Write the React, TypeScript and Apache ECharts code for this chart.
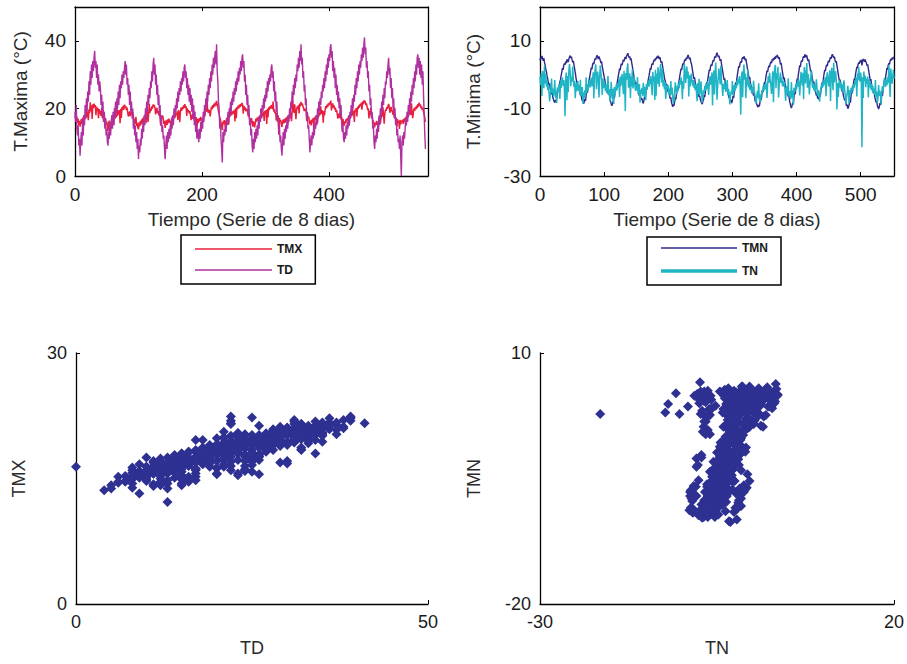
import React, { useEffect, useRef } from "react";
import * as echarts from "echarts";

// time index of the 8-day series (one stored sample per index)
const STEP = 1;

const TD = [
  19, 16, 21, 14, 12, 15, 9, 11, 6, 10,
  13, 9, 17, 12, 18, 15, 21, 17, 23, 19,
  25, 22, 28, 24, 31, 27, 33, 29, 34, 31,
  35, 37, 32, 34, 29, 33, 27, 30, 25, 28,
  26, 21, 24, 18, 22, 16, 19, 14, 17, 12,
  14, 10, 9, 13, 11, 16, 12, 15, 18, 14,
  19, 15, 20, 17, 22, 18, 23, 20, 25, 21,
  27, 23, 28, 26, 30, 27, 31, 29, 32, 34,
  30, 33, 27, 29, 24, 27, 21, 25, 19, 22,
  17, 20, 14, 17, 12, 15, 10, 13, 8, 11,
  5, 9, 7, 11, 9, 14, 11, 16, 13, 18,
  15, 20, 17, 22, 19, 24, 21, 26, 23, 28,
  26, 31, 28, 33, 35, 30, 33, 27, 30, 24,
  27, 21, 24, 18, 21, 15, 18, 13, 15, 11,
  12, 8, 5, 9, 12, 8, 13, 10, 14, 11,
  15, 12, 17, 14, 18, 15, 20, 17, 21, 19,
  23, 20, 25, 22, 26, 24, 28, 25, 29, 27,
  31, 28, 32, 33, 29, 31, 26, 29, 24, 27,
  22, 26, 21, 24, 19, 23, 17, 21, 15, 19,
  13, 16, 11, 14, 12, 10, 14, 11, 16, 13,
  17, 14, 19, 16, 21, 18, 23, 20, 25, 22,
  27, 24, 29, 26, 31, 28, 33, 30, 35, 32,
  35, 37, 33, 39, 31, 28, 22, 20, 14, 16,
  11, 8, 4, 13, 10, 14, 12, 15, 13, 17,
  15, 19, 16, 20, 18, 22, 19, 23, 21, 25,
  22, 26, 24, 28, 25, 29, 27, 31, 28, 32,
  30, 34, 31, 35, 36, 32, 34, 28, 30, 24,
  27, 21, 24, 18, 21, 15, 17, 12, 14, 9,
  7, 11, 8, 13, 10, 14, 11, 15, 12, 17,
  14, 18, 16, 20, 17, 21, 19, 23, 20, 24,
  22, 26, 23, 28, 25, 29, 27, 30, 28, 32,
  33, 29, 31, 25, 28, 22, 25, 19, 22, 16,
  18, 13, 15, 10, 12, 8, 6, 10, 13, 9,
  14, 11, 15, 13, 17, 14, 18, 16, 20, 17,
  22, 20, 25, 22, 27, 24, 29, 26, 30, 28,
  33, 31, 35, 32, 37, 34, 39, 33, 35, 29,
  31, 25, 27, 21, 23, 17, 19, 14, 15, 11,
  7, 10, 12, 9, 13, 11, 15, 12, 16, 14,
  18, 15, 20, 17, 22, 19, 23, 21, 25, 23,
  27, 25, 29, 26, 31, 28, 33, 30, 35, 32,
  36, 34, 38, 39, 35, 37, 31, 34, 29, 32,
  26, 30, 24, 27, 22, 25, 20, 23, 18, 21,
  16, 13, 15, 11, 10, 13, 11, 15, 12, 16,
  14, 18, 15, 19, 17, 21, 18, 23, 20, 24,
  22, 27, 24, 29, 26, 31, 28, 33, 30, 34,
  32, 36, 34, 38, 35, 39, 41, 36, 38, 32,
  34, 29, 31, 25, 27, 21, 23, 17, 19, 14,
  15, 10, 8, 12, 10, 14, 11, 16, 13, 18,
  15, 20, 17, 22, 19, 24, 21, 26, 23, 28,
  27, 31, 29, 33, 35, 30, 32, 26, 29, 23,
  26, 20, 23, 17, 20, 15, 17, 12, 14, 10,
  11, 8, 12, 6, 0, 10, 12, 9, 13, 11,
  14, 17, 15, 19, 16, 21, 18, 23, 20, 25,
  22, 27, 24, 29, 26, 31, 28, 33, 30, 35,
  36, 32, 35, 30, 34, 29, 33, 27, 31, 24,
  18, 12, 8,
];

const TMX = [
  17.2, 18.1, 16.4, 17.5, 15.8, 16.9, 15.1, 16.3, 14.6, 15.9,
  16.8, 15.4, 17.3, 14.3, 17.9, 16.6, 18.2, 17.1, 20.1, 17.4,
  19.1, 16.5, 19.7, 18.6, 21.8, 19.2, 20.9, 16.9, 21.2, 20.1,
  21.4, 20.3, 21.0, 18.0, 20.5, 19.2, 20.1, 17.1, 19.8, 18.4,
  19.3, 17.8, 20.2, 17.2, 18.1, 16.5, 19.0, 16.0, 17.1, 15.3,
  16.1, 14.7, 13.2, 15.6, 16.4, 15.1, 14.2, 15.8, 17.3, 16.2,
  17.8, 15.0, 18.1, 17.0, 21.6, 17.3, 20.4, 17.8, 19.4, 18.2,
  19.5, 15.6, 19.9, 17.2, 20.4, 19.4, 20.8, 19.6, 21.1, 20.4,
  20.7, 19.5, 20.2, 18.9, 17.6, 18.3, 19.1, 17.7, 18.5, 19.4,
  18.2, 18.9, 17.4, 16.1, 16.8, 15.4, 17.5, 14.8, 15.7, 14.3,
  13.8, 15.9, 14.7, 16.3, 15.2, 16.8, 15.6, 17.2, 16.0, 17.6,
  16.9, 18.3, 15.6, 21.9, 17.8, 16.0, 18.3, 21.3, 18.6, 20.0,
  19.3, 20.6, 19.9, 21.2, 20.5, 21.0, 20.1, 18.2, 19.4, 20.2,
  18.6, 19.3, 17.9, 18.7, 17.3, 14.9, 16.8, 17.5, 17.9, 16.9,
  15.4, 16.3, 14.2, 15.7, 16.5, 15.1, 16.8, 15.6, 17.0, 15.9,
  16.4, 14.6, 16.0, 17.6, 16.7, 18.0, 17.1, 19.6, 17.4, 18.7,
  18.0, 19.1, 16.6, 19.5, 18.7, 15.9, 19.0, 20.2, 19.3, 20.4,
  19.8, 20.9, 20.2, 21.3, 20.1, 20.6, 17.8, 20.0, 18.9, 19.5,
  18.5, 19.2, 17.9, 16.5, 17.5, 18.3, 16.9, 19.3, 16.4, 17.2,
  16.6, 17.4, 14.1, 16.9, 15.7, 16.4, 17.1, 16.2, 17.5, 16.6,
  17.0, 15.7, 16.8, 18.2, 17.4, 18.6, 20.0, 19.0, 22.3, 19.3,
  18.7, 19.6, 19.0, 17.6, 19.4, 20.5, 19.8, 21.0, 20.2, 21.4,
  20.5, 21.7, 20.9, 22.2, 21.0, 20.3, 19.1, 18.4, 17.3, 16.8,
  15.6, 14.9, 13.6, 16.1, 15.4, 16.5, 15.8, 14.2, 16.1, 17.2,
  16.8, 17.9, 15.2, 18.3, 17.5, 20.1, 17.9, 19.0, 18.2, 19.3,
  18.5, 19.6, 16.1, 20.0, 17.1, 20.4, 19.7, 20.8, 20.0, 21.1,
  20.4, 21.3, 20.7, 21.6, 21.0, 18.4, 20.8, 19.6, 20.3, 19.2,
  19.5, 19.9, 18.9, 17.6, 18.3, 17.0, 15.2, 16.3, 17.1, 15.8,
  14.6, 16.2, 15.3, 14.4, 15.7, 17.0, 16.1, 17.3, 16.4, 17.6,
  16.7, 17.8, 17.1, 19.8, 17.4, 18.6, 17.8, 19.0, 16.3, 19.3,
  18.4, 19.5, 15.4, 19.9, 17.3, 20.3, 19.5, 20.6, 19.9, 21.0,
  20.6, 19.8, 22.0, 19.1, 19.7, 18.5, 19.1, 16.4, 18.6, 17.3,
  17.8, 12.2, 17.2, 15.9, 16.6, 15.3, 14.5, 16.0, 16.7, 15.6,
  16.9, 15.8, 17.2, 16.4, 17.6, 15.1, 18.0, 17.2, 18.3, 17.5,
  18.8, 16.2, 19.1, 22.4, 19.5, 18.7, 21.2, 19.1, 16.8, 19.5,
  20.6, 19.8, 21.0, 18.5, 21.4, 20.7, 21.9, 20.9, 21.5, 20.6,
  20.1, 19.2, 19.7, 19.9, 19.0, 16.2, 18.3, 17.2, 17.6, 16.5,
  15.3, 16.4, 15.0, 16.7, 15.9, 17.1, 14.4, 17.4, 16.6, 17.8,
  16.9, 18.0, 15.6, 18.4, 17.6, 18.8, 18.0, 20.6, 18.4, 19.5,
  18.8, 15.8, 19.2, 17.9, 19.6, 20.7, 20.0, 21.1, 20.4, 21.5,
  20.9, 21.8, 21.2, 22.3, 19.4, 20.8, 21.5, 20.2, 20.9, 19.7,
  20.2, 19.0, 19.6, 18.4, 17.0, 17.8, 18.5, 17.2, 19.6, 16.7,
  17.4, 13.8, 16.9, 15.7, 14.9, 16.2, 15.6, 16.8, 16.0, 17.1,
  16.6, 17.7, 14.9, 18.1, 17.3, 18.5, 17.7, 20.4, 18.0, 19.2,
  16.0, 19.7, 19.0, 20.1, 17.6, 20.5, 19.8, 20.9, 20.2, 21.3,
  20.8, 21.7, 19.6, 22.0, 21.3, 22.4, 21.6, 22.2, 21.0, 21.5,
  20.6, 19.5, 20.0, 17.0, 19.3, 18.1, 20.2, 17.4, 17.9, 16.6,
  16.1, 15.2, 14.4, 15.8, 15.1, 16.3, 15.6, 14.6, 16.0, 17.2,
  16.8, 15.5, 17.3, 18.4, 17.6, 20.3, 18.1, 15.5, 18.5, 19.6,
  19.3, 20.4, 19.8, 20.8, 21.3, 20.5, 18.7, 19.9, 20.4, 19.3,
  19.0, 18.1, 20.4, 17.4, 18.0, 16.9, 17.3, 14.5, 16.8, 15.7,
  16.3, 13.9, 16.6, 15.2, 16.4, 15.8, 16.7, 15.4, 16.9, 16.1,
  17.3, 14.8, 17.8, 17.0, 18.2, 17.4, 18.5, 19.9, 18.9, 18.1,
  21.5, 18.4, 17.1, 18.9, 20.0, 19.3, 20.4, 19.7, 20.8, 20.1,
  21.3, 20.5, 21.7, 20.8, 21.2, 20.0, 20.6, 19.5, 20.1, 19.0,
  18.2, 17.1, 16.0,
];

const TMN = [
  4.2, 5.1, 4.6, 5.5, 4.8, 4.1, 4.9, 3.6, 2.8, 1.5,
  0.9, -0.4, -1.2, -2.5, -3.1, -2.6, -4.2, -4.9, -5.8, -5.3,
  -6.7, -7.4, -7.9, -8.3, -7.6, -8.1, -6.9, -5.8, -4.6, -5.1,
  -3.4, -2.2, -1.5, -0.3, 0.8, 1.9, 1.4, 2.7, 3.3, 2.9,
  3.8, 3.4, 4.5, 4.1, 3.7, 4.6, 5.2, 5.6, 4.9, 5.3,
  4.4, 3.6, 4.1, 2.9, 1.7, 0.6, -0.8, -1.9, -2.6, -3.4,
  -4.3, -3.8, -5.2, -6.1, -5.7, -7.0, -7.8, -7.4, -8.6, -8.1,
  -7.2, -7.8, -6.1, -4.9, -5.4, -3.7, -2.4, -1.1, -0.2, 1.0,
  2.1, 1.6, 3.0, 3.5, 3.1, 4.2, 4.8, 4.4, 5.3, 5.7,
  5.1, 4.6, 5.4, 4.8, 4.2, 3.4, 3.9, 2.6, 1.5, 0.4,
  -0.6, -1.4, -2.8, -3.5, -3.0, -4.6, -5.3, -6.0, -5.6, -7.1,
  -7.9, -8.6, -9.2, -8.7, -8.1, -6.4, -7.0, -5.5, -4.1, -4.6,
  -2.9, -1.6, -0.5, 0.6, 1.8, 1.3, 2.6, 3.2, 2.8, 3.7,
  4.4, 3.9, 4.8, 5.2, 4.6, 5.5, 5.9, 6.3, 5.6, 5.0,
  5.4, 4.3, 4.8, 3.5, 2.4, 1.2, 0.1, -1.3, -2.1, -2.9,
  -2.4, -3.8, -4.5, -4.0, -5.6, -6.3, -5.9, -6.8, -7.4, -7.0,
  -8.1, -8.5, -7.7, -6.6, -7.1, -5.2, -3.9, -4.4, -2.6, -1.3,
  -0.4, 0.8, 1.9, 1.5, 2.8, 3.3, 2.9, 3.9, 4.4, 4.0,
  4.9, 4.5, 5.3, 4.8, 5.6, 5.1, 4.6, 5.2, 4.2, 3.5,
  3.9, 2.6, 1.5, 0.4, -0.9, -1.7, -2.5, -3.3, -2.8, -4.4,
  -5.2, -4.8, -6.3, -7.1, -6.7, -8.2, -8.9, -9.5, -8.8, -9.2,
  -8.0, -6.8, -7.3, -5.5, -4.2, -4.7, -2.9, -1.6, -0.4, 0.7,
  1.8, 1.4, 2.7, 3.3, 2.9, 4.0, 4.5, 4.1, 5.0, 4.6,
  5.4, 5.8, 5.1, 4.5, 5.0, 3.9, 3.3, 2.2, 1.0, -0.2,
  -1.3, -0.8, -2.4, -3.2, -4.1, -3.6, -5.3, -5.9, -6.6, -6.2,
  -7.3, -7.9, -8.4, -8.7, -8.0, -7.4, -6.1, -6.6, -4.8, -3.5,
  -2.2, -2.7, -0.9, 0.3, 1.5, 1.1, 2.4, 3.0, 2.6, 3.6,
  4.3, 3.9, 4.9, 5.4, 5.0, 6.0, 6.5, 5.8, 5.2, 5.6,
  4.8, 4.1, 4.6, 3.2, 2.0, 0.8, -0.4, -1.6, -1.1, -2.7,
  -3.6, -4.4, -4.0, -5.5, -6.3, -7.0, -6.6, -8.0, -7.5, -8.4,
  -7.6, -6.4, -6.9, -5.0, -3.7, -2.4, -2.9, -1.1, 0.2, 1.4,
  2.5, 2.1, 3.4, 3.9, 3.5, 4.6, 5.1, 4.7, 5.4, 4.9,
  4.2, 4.7, 3.5, 2.3, 1.2, 0.0, -1.2, -0.7, -2.4, -3.3,
  -4.2, -3.8, -5.4, -6.2, -5.8, -7.3, -8.1, -7.7, -8.8, -9.3,
  -9.6, -9.0, -9.4, -8.2, -7.0, -7.5, -5.8, -4.6, -5.1, -3.4,
  -2.2, -2.7, -1.0, 0.1, 1.2, 0.8, 2.0, 2.6, 2.2, 3.3,
  3.8, 3.4, 4.5, 4.0, 4.9, 4.4, 5.2, 4.7, 5.5, 5.1,
  5.8, 5.3, 4.7, 5.2, 4.1, 3.0, 3.5, 2.1, 0.9, -0.3,
  -1.4, -0.9, -2.6, -3.4, -4.3, -3.9, -5.5, -6.4, -6.0, -7.6,
  -8.5, -9.4, -9.9, -9.2, -8.3, -8.8, -6.7, -5.3, -5.8, -3.9,
  -2.5, -1.2, -1.7, 0.2, 1.5, 2.7, 2.3, 3.6, 4.2, 3.8,
  4.9, 5.4, 5.0, 6.0, 5.5, 5.1, 5.7, 4.6, 4.0, 4.5,
  3.3, 2.1, 0.9, 1.3, -0.3, -1.5, -2.6, -2.1, -3.8, -4.6,
  -5.3, -6.2, -5.8, -7.1, -6.6, -7.4, -6.0, -6.5, -4.9, -3.6,
  -2.3, -2.8, -1.0, 0.3, 1.4, 1.0, 2.3, 2.9, 2.5, 3.6,
  4.1, 3.7, 4.6, 5.1, 4.7, 5.6, 6.0, 5.4, 4.9, 5.3,
  4.4, 3.6, 4.0, 2.7, 1.5, 0.3, -0.9, -2.0, -1.5, -3.2,
  -4.1, -5.0, -4.6, -6.1, -6.9, -7.6, -7.2, -8.5, -9.3, -8.9,
  -10.1, -9.6, -9.0, -7.8, -8.3, -6.4, -5.0, -5.5, -3.7, -2.4,
  -1.2, -1.7, 0.1, 1.2, 2.3, 1.9, 3.0, 3.6, 3.2, 4.1,
  3.7, 4.4, 2.7, 4.0, 4.6, 4.2, 3.8, 4.5, 3.9, 3.4,
  2.6, 3.0, 1.8, 0.6, -0.6, -1.8, -1.3, -3.0, -3.9, -4.7,
  -5.5, -5.0, -6.6, -7.4, -8.2, -7.8, -9.1, -9.7, -10.2, -9.6,
  -8.4, -9.0, -7.1, -5.8, -6.3, -4.4, -3.1, -1.8, -2.3, -0.6,
  0.7, 1.9, 1.5, 2.8, 3.4, 3.0, 4.1, 4.6, 4.2, 5.0,
  4.5, 5.2, 4.8,
];

const TN = [
  -0.8, -3.1, 0.4, -6.3, 1.1, -1.5, -4.0, 2.6, -2.6, 0.2,
  -3.5, -1.8, -4.6, -2.9, -5.1, -7.9, -6.0, -4.2, -1.2, -5.5,
  -4.1, -6.3, -5.0, -1.6, -6.8, -4.7, -8.4, -3.8, -5.2, -4.4,
  -2.9, -7.2, -1.7, -3.9, -2.4, -0.9, -3.3, -1.6, -4.1, -12.3,
  -1.2, 0.6, -7.6, -0.4, -5.2, 1.3, 3.1, 0.8, -3.4, -0.7,
  -2.1, 2.4, -1.4, -3.7, -1.9, -7.0, -2.6, -5.0, -3.2, -1.9,
  -4.8, -3.1, -5.6, -1.5, -6.4, -4.9, -3.7, -8.6, -5.2, -7.0,
  -4.6, -6.2, -0.8, -5.4, -2.8, -4.5, -3.0, -1.6, -3.8, -2.2,
  -0.9, -3.5, -1.4, 0.7, -7.1, -0.3, 1.5, 3.0, -4.3, -0.5,
  0.9, -2.1, -6.8, -0.6, 2.7, 0.4, -1.7, -6.0, -1.1, -2.8,
  -4.0, -2.3, -4.9, -3.1, -5.5, -3.8, -0.4, -6.0, -4.3, -7.9,
  -6.5, -2.1, -5.8, -7.3, -4.2, -8.7, -3.7, -6.0, -4.4, -2.9,
  -4.6, -2.5, -3.8, -1.3, -6.6, -0.6, -3.4, -1.5, 0.2, -2.7,
  -5.8, 1.1, -2.4, -10.8, 0.5, -1.6, 2.1, 3.3, -3.9, -1.2,
  0.4, -6.9, -0.6, -3.5, 1.6, -4.1, -2.3, -0.9, -3.3, -4.8,
  -2.9, -4.6, -0.7, -5.7, -4.1, -2.8, -8.3, -4.5, -5.6, -3.9,
  -6.4, -2.4, -4.3, -6.7, -3.6, -7.6, -2.7, -4.4, -3.1, -1.8,
  -3.6, -1.2, -2.8, -0.4, -3.9, -6.1, 0.8, -2.2, -0.6, -7.5,
  1.4, -6.4, 0.3, -2.8, 2.2, -0.9, -3.6, 0.6, 3.2, -0.2,
  -2.4, 1.9, -3.5, -1.6, -4.3, -2.2, -7.2, -5.1, -2.9, -4.4,
  -3.2, -5.7, -4.1, -6.3, -1.9, -5.9, -3.8, -6.8, -8.6, -7.4,
  -5.0, -2.3, -4.4, -5.8, -3.5, -4.9, -2.6, -4.1, -1.7, -3.0,
  -0.8, -2.6, -7.3, -1.9, -4.2, 3.1, 1.7, -2.5, -0.7, 2.4,
  -1.1, 0.9, -6.5, -0.2, -3.6, -1.4, 0.3, -2.1, -3.3, -1.6,
  -3.9, -2.4, -4.6, -2.9, -5.3, -7.9, -2.5, -5.8, -1.2, -6.1,
  -4.4, -2.0, -5.2, -8.3, -6.5, -4.6, -5.5, -3.3, -4.8, -2.7,
  -4.2, -2.0, -3.5, -6.0, -2.7, -0.5, -3.0, -1.3, 0.6, -9.1,
  -1.0, 1.2, -5.9, 0.1, 3.6, -1.5, -7.4, -3.4, -0.6, 1.8,
  -0.8, -2.9, 2.7, -1.7, -3.5, -6.3, -2.8, -4.4, -2.0, -3.6,
  -5.1, -3.4, -1.6, -6.0, -4.2, -5.6, -8.8, -6.4, -4.9, -5.8,
  -1.9, -6.2, -4.8, -3.2, -5.0, -2.9, -4.1, -1.8, -3.3, -1.2,
  -2.6, -0.4, -3.0, -11.9, -1.3, 0.9, -6.7, -0.1, 3.0, -1.5,
  0.3, -7.0, -0.8, -3.1, 1.5, -3.8, -2.2, -4.5, -2.7, -4.0,
  -5.6, -3.9, -5.0, -1.8, -4.6, -5.9, -7.2, -8.5, -6.5, -4.8,
  -6.9, -2.6, -7.6, -5.9, -8.1, -6.1, -4.6, -5.5, -3.4, -4.7,
  -2.9, -4.4, -2.1, -3.6, -6.9, -2.8, -0.4, -2.4, 0.5, -1.7,
  -3.1, -5.7, -1.9, 1.0, -8.2, -0.9, 1.9, 2.9, -4.0, 0.4,
  -1.4, 2.3, -6.8, -2.9, -1.1, 0.6, -2.5, -0.8, -3.4, -1.8,
  -3.6, -2.1, -4.5, -7.7, -5.0, -3.6, -5.8, -1.1, -6.4, -4.9,
  -6.1, -7.3, -2.2, -6.8, -4.7, -8.9, -3.9, -5.2, -4.0, -2.8,
  -4.3, -2.2, -3.6, -1.3, -2.8, -6.2, -2.5, 0.8, -1.4, -3.3,
  0.5, -7.3, 2.2, -0.4, -2.6, 1.1, 3.4, -3.9, 0.2, -1.6,
  -5.9, -2.8, -1.1, 1.2, -1.9, -3.9, -2.4, -4.6, -3.0, -5.1,
  -3.8, -1.4, -4.2, -6.3, -4.6, -5.8, -8.0, -5.2, -4.1, -2.9,
  -4.0, -2.3, -3.5, -1.5, -2.9, -0.7, -6.4, -0.9, 0.7, -1.8,
  -3.5, -0.6, 1.3, -7.8, -0.2, 2.0, -1.4, -4.6, 3.5, -2.3,
  -0.4, 1.0, -1.7, -10.3, -2.5, -6.6, -3.2, -1.6, -3.9, -2.3,
  -4.4, -2.9, -5.1, -3.6, -1.7, -4.3, -6.2, -8.7, -6.9, -5.5,
  -3.3, -5.3, -8.5, -4.6, -6.0, -3.9, -5.4, -3.5, -4.6, -2.7,
  -3.9, -1.8, -3.0, -0.9, -6.5, 0.3, -1.7, 2.2, -0.4, -2.1,
  0.6, -1.6, -21.5, -0.8, -6.9, 0.9, -1.9, -0.3, -3.7, -1.2,
  -2.6, -0.6, -6.8, -1.4, -3.8, -2.1, -4.4, -2.7, -4.9, -3.4,
  -5.6, -4.1, -6.0, -1.6, -6.7, -5.0, -8.4, -7.1, -3.1, -6.3,
  -4.7, -6.2, -8.8, -5.0, -3.4, -4.8, -2.9, -1.0, -2.2, -3.6,
  -1.5, -3.2, -0.8, -2.5, 2.8, -1.9, -6.6, 1.8, -1.0, -2.7,
  -0.5, 1.4, -1.3,
];

// axis ticks / ranges
const TL_X_TICKS = [0, 200, 400];
const TL_Y_TICKS = [0, 20, 40];
const TR_X_TICKS = [0, 100, 200, 300, 400, 500];
const TR_Y_TICKS = [-30, -10, 10];
const BL_X_TICKS = [0, 50];
const BL_Y_TICKS = [0, 30];
const BR_X_TICKS = [-30, 20];
const BR_Y_TICKS = [-20, 10];

const FONT = "'Liberation Sans', Arial, sans-serif";
const TXT = "#1a1a1a";
const THIN_ICON = "path://M0,0L100,0L100,2L0,2Z";
const THICK_ICON = "path://M0,0L100,0L100,4.5L0,4.5Z";

function axis(
  gridIndex: number,
  position: string,
  min: number,
  max: number,
  ticks: number[],
  showLabels: boolean,
  fontSize: number,
  extra: any = {}
) {
  return {
    type: "value",
    gridIndex,
    position,
    min,
    max,
    axisLine: { show: true, onZero: false, lineStyle: { color: "#000", width: 1.3 } },
    axisTick: {
      show: true,
      inside: true,
      length: 4,
      customValues: ticks,
      lineStyle: { color: "#000", width: 1 },
    },
    axisLabel: {
      show: showLabels,
      customValues: ticks,
      fontFamily: FONT,
      fontSize,
      color: TXT,
      margin: 9,
    },
    splitLine: { show: false },
    nameTextStyle: { fontFamily: FONT, fontSize, color: "#2a2a2a" },
    ...extra,
  };
}

const legendBase = {
  orient: "vertical",
  borderColor: "#000",
  borderWidth: 1.5,
  itemHeight: 14,
  selectedMode: false,
  textStyle: { fontFamily: FONT, fontSize: 12, fontWeight: "bold", color: TXT, width: 32 },
};

export default function App() {
  const ref = useRef<HTMLDivElement>(null);

  useEffect(() => {
    if (!ref.current) return;
    const chart = echarts.init(ref.current, undefined, { renderer: "svg" });

    const timeSeries = (arr: number[]) => arr.map((v, i) => [i * STEP, v]);

    const option: any = {
      animation: false,
      backgroundColor: "#fff",
      grid: [
        { left: 75, top: 7, width: 353, height: 169 },
        { left: 540, top: 7, width: 354, height: 169 },
        { left: 76, top: 353, width: 352, height: 251 },
        { left: 540, top: 353, width: 355, height: 251 },
      ],
      xAxis: [
        axis(0, "bottom", 0, 556, TL_X_TICKS, true, 19, {
          name: "Tiempo (Serie de 8 dias)",
          nameLocation: "middle",
          nameGap: 34,
        }),
        axis(0, "top", 0, 556, TL_X_TICKS, false, 19),
        axis(1, "bottom", 0, 552, TR_X_TICKS, true, 19, {
          name: "Tiempo (Serie de 8 dias)",
          nameLocation: "middle",
          nameGap: 34,
        }),
        axis(1, "top", 0, 552, TR_X_TICKS, false, 19),
        axis(2, "bottom", 0, 50, BL_X_TICKS, true, 18, {
          name: "TD",
          nameLocation: "middle",
          nameGap: 35,
        }),
        axis(3, "bottom", -30, 20, BR_X_TICKS, true, 18, {
          name: "TN",
          nameLocation: "middle",
          nameGap: 35,
        }),
      ],
      yAxis: [
        axis(0, "left", 0, 50, TL_Y_TICKS, true, 19, {
          name: "T.Maxima (°C)",
          nameLocation: "middle",
          nameGap: 45,
          nameRotate: 90,
        }),
        axis(0, "right", 0, 50, TL_Y_TICKS, false, 19),
        axis(1, "left", -30, 20, TR_Y_TICKS, true, 19, {
          name: "T.Minima (°C)",
          nameLocation: "middle",
          nameGap: 57,
          nameRotate: 90,
        }),
        axis(1, "right", -30, 20, TR_Y_TICKS, false, 19),
        axis(2, "left", 0, 30, BL_Y_TICKS, true, 18, {
          name: "TMX",
          nameLocation: "middle",
          nameGap: 48,
          nameRotate: 90,
        }),
        axis(3, "left", -20, 10, BR_Y_TICKS, true, 18, {
          name: "TMN",
          nameLocation: "middle",
          nameGap: 57,
          nameRotate: 90,
        }),
      ],
      legend: [
        {
          ...legendBase,
          left: 181,
          top: 235,
          padding: [8, 13, 8, 14],
          itemWidth: 77,
          itemGap: 9,
          data: [
            { name: "TMX", icon: THIN_ICON },
            { name: "TD", icon: THIN_ICON },
          ],
        },
        {
          ...legendBase,
          left: 647,
          top: 237,
          padding: [5, 13, 8, 14],
          itemWidth: 76,
          itemGap: 11,
          data: [
            { name: "TMN", icon: THIN_ICON },
            { name: "TN", icon: THICK_ICON },
          ],
        },
      ],
      series: [
        {
          type: "line",
          name: "TMX",
          xAxisIndex: 0,
          yAxisIndex: 0,
          data: timeSeries(TMX),
          symbol: "none",
          lineStyle: { color: "#E8203C", width: 1.5 },
          itemStyle: { color: "#E8203C" },
        },
        {
          type: "line",
          name: "TD",
          xAxisIndex: 0,
          yAxisIndex: 0,
          data: timeSeries(TD),
          symbol: "none",
          lineStyle: { color: "#B0309F", width: 1.4 },
          itemStyle: { color: "#B0309F" },
        },
        {
          type: "line",
          name: "TMN",
          xAxisIndex: 2,
          yAxisIndex: 2,
          data: timeSeries(TMN),
          symbol: "none",
          lineStyle: { color: "#2D2A8C", width: 1.4 },
          itemStyle: { color: "#2D2A8C" },
        },
        {
          type: "line",
          name: "TN",
          xAxisIndex: 2,
          yAxisIndex: 2,
          data: timeSeries(TN),
          symbol: "none",
          lineStyle: { color: "#1FB5C4", width: 1.5 },
          itemStyle: { color: "#1FB5C4" },
        },
        {
          type: "scatter",
          name: "TD vs TMX",
          xAxisIndex: 4,
          yAxisIndex: 4,
          data: TD.map((v, i) => [v, TMX[i]]),
          symbol: "diamond",
          symbolSize: 10,
          itemStyle: { color: "#2E3192", opacity: 1 },
        },
        {
          type: "scatter",
          name: "TN vs TMN",
          xAxisIndex: 5,
          yAxisIndex: 5,
          data: TN.map((v, i) => [v, TMN[i]]),
          symbol: "diamond",
          symbolSize: 10,
          itemStyle: { color: "#2E3192", opacity: 1 },
        },
      ],
    };

    chart.setOption(option);
    return () => chart.dispose();
  }, []);

  return (
    <div
      ref={ref}
      style={{ position: "fixed", left: 0, top: 0, width: 907, height: 664, background: "#fff" }}
    />
  );
}
